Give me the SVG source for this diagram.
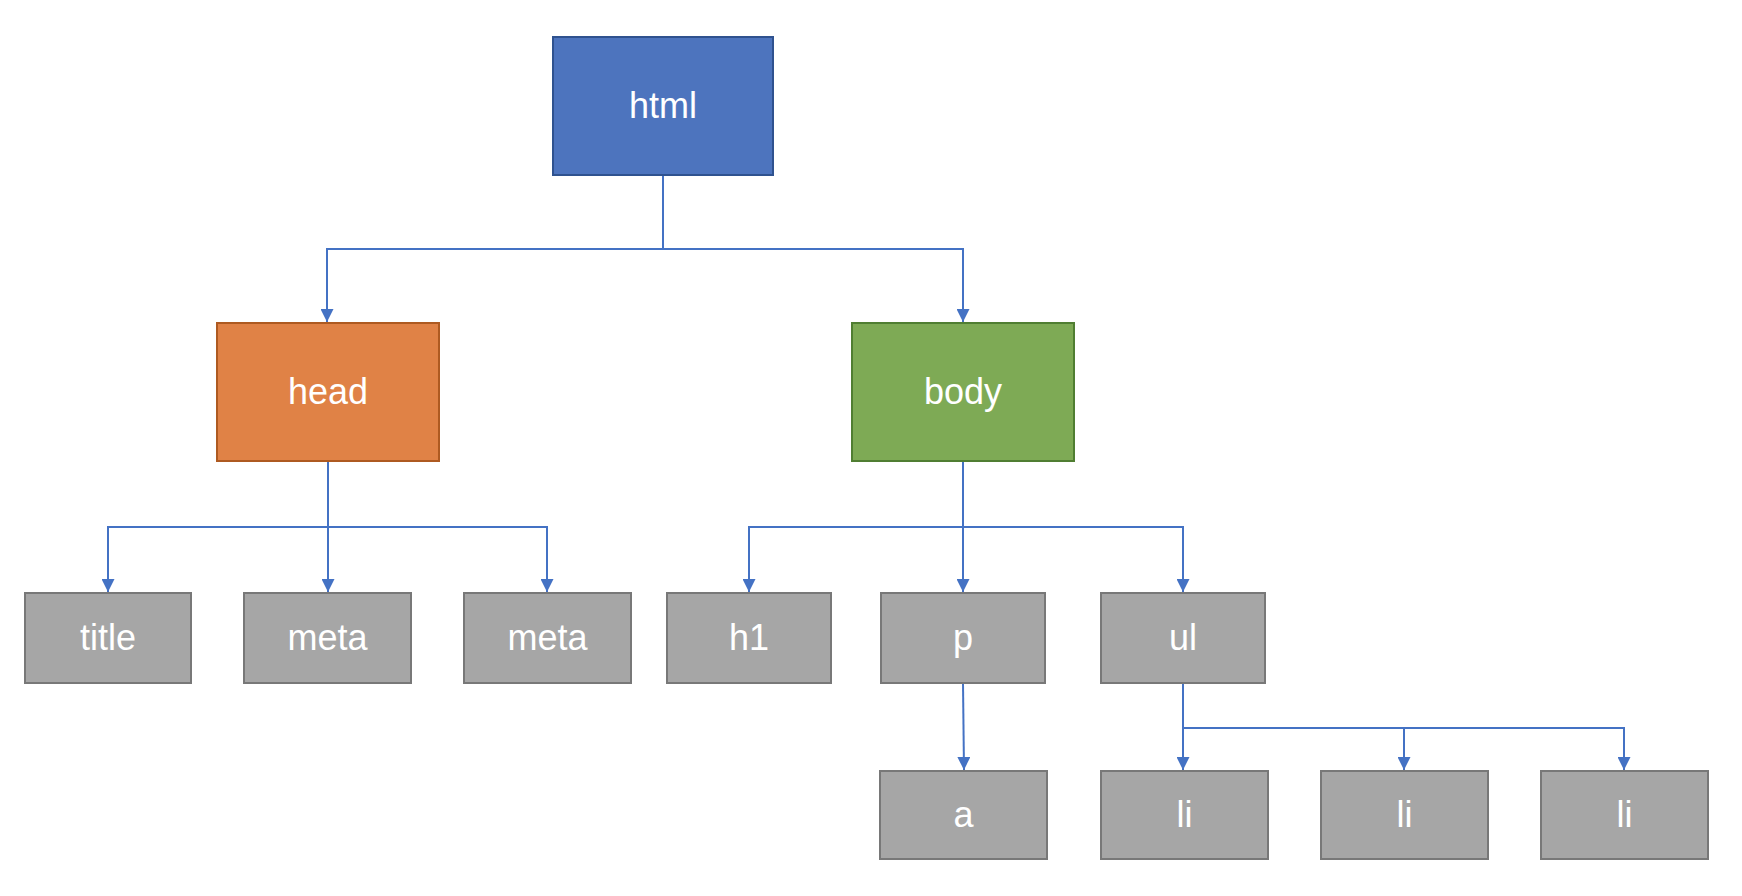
<svg xmlns="http://www.w3.org/2000/svg" width="1742" height="896" viewBox="0 0 1742 896">
<style>
.box{stroke-width:2}
.blue{fill:#4D74BE;stroke:#2F528F}
.orange{fill:#E08246;stroke:#AE5A21}
.green{fill:#7EAA55;stroke:#507E32}
.gray{fill:#A6A6A6;stroke:#787878}
.lbl{font-family:"Liberation Sans",Arial,sans-serif;font-size:36px;fill:#FFFFFF;text-anchor:middle}
.conn{fill:none;stroke:#4472C4;stroke-width:2}
</style>
<defs>
<marker id="arr" viewBox="0 0 13 13" refX="13" refY="6.5" markerWidth="13" markerHeight="13" markerUnits="userSpaceOnUse" orient="auto">
<path d="M0,0 L13,6.5 L0,13 z" fill="#4472C4"/>
</marker>
</defs>
<rect width="1742" height="896" fill="#FFFFFF"/>
<g id="connectors">
<path class="conn" d="M663,175 V249 H327 V322" marker-end="url(#arr)"/>
<path class="conn" d="M663,175 V249 H963 V322" marker-end="url(#arr)"/>
<path class="conn" d="M328,461 V527 H108 V592" marker-end="url(#arr)"/>
<path class="conn" d="M328,461 V592" marker-end="url(#arr)"/>
<path class="conn" d="M328,461 V527 H547 V592" marker-end="url(#arr)"/>
<path class="conn" d="M963,461 V527 H749 V592" marker-end="url(#arr)"/>
<path class="conn" d="M963,461 V592" marker-end="url(#arr)"/>
<path class="conn" d="M963,461 V527 H1183 V592" marker-end="url(#arr)"/>
<path class="conn" d="M963,683 L964,770" marker-end="url(#arr)"/>
<path class="conn" d="M1183,683 V770" marker-end="url(#arr)"/>
<path class="conn" d="M1183,683 V728 H1404 V770" marker-end="url(#arr)"/>
<path class="conn" d="M1183,683 V728 H1624 V770" marker-end="url(#arr)"/>
</g>
<g id="html"><rect class="box blue" x="553" y="37" width="220" height="138"/><text class="lbl" x="663" y="118">html</text></g>
<g id="head"><rect class="box orange" x="217" y="323" width="222" height="138"/><text class="lbl" x="328" y="404">head</text></g>
<g id="body"><rect class="box green" x="852" y="323" width="222" height="138"/><text class="lbl" x="963" y="404">body</text></g>
<g id="title"><rect class="box gray" x="25" y="593" width="166" height="90"/><text class="lbl" x="108" y="650">title</text></g>
<g id="meta1"><rect class="box gray" x="244" y="593" width="167" height="90"/><text class="lbl" x="327.5" y="650">meta</text></g>
<g id="meta2"><rect class="box gray" x="464" y="593" width="167" height="90"/><text class="lbl" x="547.5" y="650">meta</text></g>
<g id="h1"><rect class="box gray" x="667" y="593" width="164" height="90"/><text class="lbl" x="749" y="650">h1</text></g>
<g id="p"><rect class="box gray" x="881" y="593" width="164" height="90"/><text class="lbl" x="963" y="650">p</text></g>
<g id="ul"><rect class="box gray" x="1101" y="593" width="164" height="90"/><text class="lbl" x="1183" y="650">ul</text></g>
<g id="a"><rect class="box gray" x="880" y="771" width="167" height="88"/><text class="lbl" x="963.5" y="827">a</text></g>
<g id="li1"><rect class="box gray" x="1101" y="771" width="167" height="88"/><text class="lbl" x="1184.5" y="827">li</text></g>
<g id="li2"><rect class="box gray" x="1321" y="771" width="167" height="88"/><text class="lbl" x="1404.5" y="827">li</text></g>
<g id="li3"><rect class="box gray" x="1541" y="771" width="167" height="88"/><text class="lbl" x="1624.5" y="827">li</text></g>
</svg>
